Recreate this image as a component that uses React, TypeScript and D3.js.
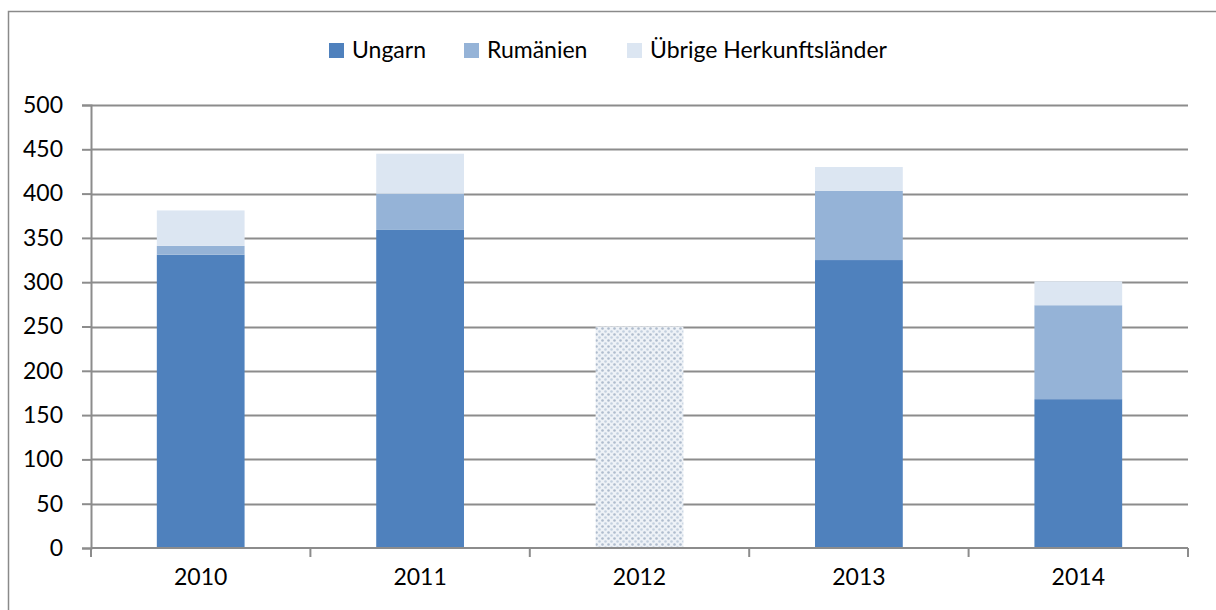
import React, { useEffect, useRef } from "react";
import * as d3 from "d3";

// values
const years = ["2010", "2011", "2012", "2013", "2014"];
const ungarn = [331, 359, 0, 325, 168];
const rumaenien = [10, 41, 0, 78, 106];
const uebrige = [40, 45, 0, 27, 27];
// 2012 only a total is given (hatched bar)
const totalOnly = [0, 0, 250, 0, 0];
const seriesNames = ["Ungarn", "Rumänien", "Übrige Herkunftsländer"];
const yTicks = [0, 50, 100, 150, 200, 250, 300, 350, 400, 450, 500];

const colors = ["#4f81bd", "#95b3d7", "#dce6f2"];

export default function App() {
  const ref = useRef<SVGSVGElement>(null);

  useEffect(() => {
    const svg = d3.select(ref.current);
    svg.selectAll("*").remove();

    const W = 1216, H = 610;
    const margin = { top: 105, right: 28, bottom: 62, left: 91 };
    const width = W - margin.left - margin.right;
    const height = H - margin.top - margin.bottom;
    const font = "Lato, 'Open Sans', sans-serif";

    // dotted fill for 2012
    const defs = svg.append("defs");
    const pat = defs.append("pattern")
      .attr("id", "dots")
      .attr("patternUnits", "userSpaceOnUse")
      .attr("width", 6)
      .attr("height", 6);
    pat.append("rect").attr("width", 6).attr("height", 6).attr("fill", "#eef2f7");
    pat.append("circle").attr("cx", 1.5).attr("cy", 1.5).attr("r", 1.3).attr("fill", "#aebccd");
    pat.append("circle").attr("cx", 4.5).attr("cy", 4.5).attr("r", 1.3).attr("fill", "#c3d0df");

    // outer chart border (left and top visible)
    svg.append("rect")
      .attr("x", 8.5).attr("y", 11.5)
      .attr("width", W + 20).attr("height", H + 20)
      .attr("fill", "none")
      .attr("stroke", "#8a8a8a")
      .attr("stroke-width", 1.5);

    const g = svg.append("g")
      .attr("transform", "translate(" + margin.left + "," + margin.top + ")");

    const x = d3.scaleBand().domain(years).range([0, width]).paddingInner(0.6).paddingOuter(0.3);
    const xOuter = d3.scaleBand().domain(years).range([0, width]);
    const y = d3.scaleLinear().domain([0, 500]).range([height, 0]);

    // gridlines
    g.append("g")
      .selectAll("line")
      .data(yTicks.filter(d => d > 0))
      .enter()
      .append("line")
      .attr("x1", 0).attr("x2", width)
      .attr("y1", d => Math.round(y(d)) + 0.5)
      .attr("y2", d => Math.round(y(d)) + 0.5)
      .attr("stroke", "#8c8c8c")
      .attr("stroke-width", 2);

    // stacked bars
    const rows = years.map((yr, i) => ({ year: yr, Ungarn: ungarn[i], "Rumänien": rumaenien[i], "Übrige Herkunftsländer": uebrige[i] }));
    const stack = d3.stack<any>().keys(seriesNames)(rows);
    stack.forEach((s, k) => {
      g.append("g")
        .selectAll("rect")
        .data(s.filter(d => d[1] - d[0] > 0))
        .enter()
        .append("rect")
        .attr("x", d => x(d.data.year) as number)
        .attr("width", x.bandwidth())
        .attr("y", d => y(d[1]))
        .attr("height", d => y(d[0]) - y(d[1]))
        .attr("fill", colors[k]);
    });

    g.append("g")
      .selectAll("rect")
      .data(years.map((yr, i) => ({ year: yr, v: totalOnly[i] })).filter(d => d.v > 0))
      .enter()
      .append("rect")
      .attr("x", d => x(d.year) as number)
      .attr("width", x.bandwidth())
      .attr("y", d => y(d.v))
      .attr("height", d => y(0) - y(d.v))
      .attr("fill", "url(#dots)");

    // y axis
    const yAxis = g.append("g")
      .call(d3.axisLeft(y).tickValues(yTicks).tickSize(9).tickPadding(19));
    yAxis.select(".domain").attr("stroke", "#8c8c8c").attr("stroke-width", 2);
    yAxis.selectAll(".tick line").attr("stroke", "#8c8c8c").attr("stroke-width", 2);
    yAxis.selectAll("text")
      .style("font-family", font)
      .style("font-size", "23px")
      .attr("fill", "#000");

    // x axis
    const xAxis = g.append("g")
      .attr("transform", "translate(0," + height + ")")
      .call(d3.axisBottom(x).tickSize(0).tickPadding(21));
    xAxis.select(".domain").remove();
    xAxis.selectAll("text")
      .style("font-family", font)
      .style("font-size", "23px")
      .attr("fill", "#000");
    g.append("line")
      .attr("x1", 0).attr("x2", width)
      .attr("y1", height).attr("y2", height)
      .attr("stroke", "#8c8c8c").attr("stroke-width", 2);
    g.append("g")
      .selectAll("line")
      .data(years.concat(["end"]))
      .enter()
      .append("line")
      .attr("x1", (d, i) => i < years.length ? (xOuter(d) as number) : width)
      .attr("x2", (d, i) => i < years.length ? (xOuter(d) as number) : width)
      .attr("y1", height).attr("y2", height + 9)
      .attr("stroke", "#8c8c8c").attr("stroke-width", 2);

    // legend
    const legendX = [329, 464, 627];
    const legend = svg.append("g");
    seriesNames.forEach((name, i) => {
      legend.append("rect")
        .attr("x", legendX[i]).attr("y", 43)
        .attr("width", 15).attr("height", 15)
        .attr("fill", colors[i]);
      legend.append("text")
        .attr("x", legendX[i] + 23).attr("y", 58)
        .style("font-family", font)
        .style("font-size", "23px")
        .text(name);
    });
  }, []);

  return (
    <svg ref={ref} width={1216} height={610}
      style={{ position: "absolute", left: 0, top: 0, background: "#fff" }}></svg>
  );
}
